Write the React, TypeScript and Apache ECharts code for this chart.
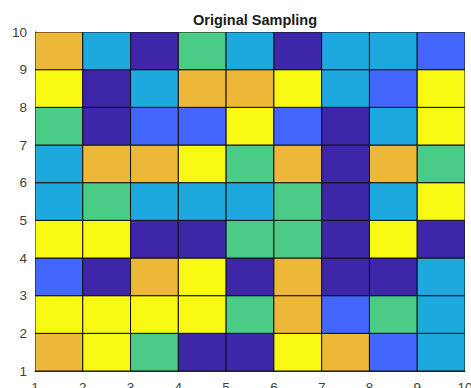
import React, { useEffect, useRef } from "react";
import * as echarts from "echarts";

// colour levels: 1 dark, 2 blue, 3 cyan, 4 green, 5 orange, 6 yellow
const levelColors = ["#3D26A8", "#4366FC", "#1DA8DE", "#4ACB86", "#EDB838", "#F8F912"];
const xTicks = [1, 2, 3, 4, 5, 6, 7, 8, 9, 10];
const yTicks = [1, 2, 3, 4, 5, 6, 7, 8, 9, 10];

// rows from y=1 (bottom) to y=9 (top); columns x=1..9
const row1 = [5, 6, 4, 1, 1, 6, 5, 2, 3];
const row2 = [6, 6, 6, 6, 4, 5, 2, 4, 3];
const row3 = [2, 1, 5, 6, 1, 5, 1, 1, 3];
const row4 = [6, 6, 1, 1, 4, 4, 1, 6, 1];
const row5 = [3, 4, 3, 3, 3, 4, 1, 3, 6];
const row6 = [3, 5, 5, 6, 4, 5, 1, 5, 4];
const row7 = [4, 1, 2, 2, 6, 2, 1, 3, 6];
const row8 = [6, 1, 3, 5, 5, 6, 3, 2, 6];
const row9 = [5, 3, 1, 4, 3, 1, 3, 3, 2];
const rows = [row1, row2, row3, row4, row5, row6, row7, row8, row9];

export default function App() {
  const ref = useRef<HTMLDivElement>(null);
  useEffect(() => {
    if (!ref.current) return;
    const chart = echarts.init(ref.current, null, { renderer: "svg" });
    const data: number[][] = [];
    rows.forEach((r, yi) => r.forEach((v, xi) => data.push([xi + 1, yi + 1, v])));
    const labelStyle = { color: "#404040", fontSize: 13.5, fontFamily: "Liberation Sans, Arial, sans-serif" };
    chart.setOption({
      animation: false,
      title: {
        text: "Original Sampling",
        left: 250,
        textAlign: "center",
        top: 7,
        textStyle: { fontSize: 14.5, fontWeight: "bold", color: "#1a1a1a", fontFamily: "Liberation Sans, Arial, sans-serif" },
      },
      grid: { left: 35, top: 32, width: 430, height: 339, containLabel: false, outerBoundsMode: "none" },
      xAxis: {
        type: "value",
        min: xTicks[0],
        max: xTicks[xTicks.length - 1],
        interval: 1,
        axisLine: { show: true, lineStyle: { color: "#262626", width: 1 } },
        axisTick: { show: false },
        splitLine: { show: false },
        axisLabel: { ...labelStyle, margin: 9 },
      },
      yAxis: {
        type: "value",
        min: yTicks[0],
        max: yTicks[yTicks.length - 1],
        interval: 1,
        axisLine: { show: true, lineStyle: { color: "#262626", width: 1 } },
        axisTick: { show: false },
        splitLine: { show: false },
        axisLabel: { ...labelStyle, margin: 8 },
      },
      series: [
        {
          type: "custom",
          data,
          clip: true,
          renderItem: (params: any, api: any) => {
            const x = api.value(0);
            const y = api.value(1);
            const v = api.value(2);
            const p0 = api.coord([x, y + 1]);
            const p1 = api.coord([x + 1, y]);
            return {
              type: "rect",
              shape: { x: p0[0], y: p0[1], width: p1[0] - p0[0], height: p1[1] - p0[1] },
              style: { fill: levelColors[v - 1], stroke: "#111", lineWidth: 1 },
            };
          },
        },
      ],
    });
    return () => chart.dispose();
  }, []);
  return (
    <div
      ref={ref}
      style={{ position: "fixed", left: 0, top: 0, width: 471, height: 388, background: "#fff" }}
    />
  );
}
